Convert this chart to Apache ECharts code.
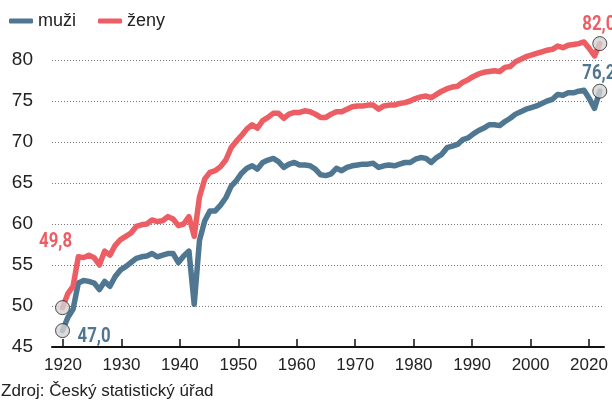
<!DOCTYPE html>
<html><head><meta charset="utf-8">
<script src="https://cdn.jsdelivr.net/npm/echarts@6/dist/echarts.min.js"></script>
<style>html,body{margin:0;padding:0;background:#fff}#c{width:612px;height:402px}</style>
</head><body><div id="c"></div>
<script>
const years = [1920,1921,1922,1923,1924,1925,1926,1927,1928,1929,
  1930,1931,1932,1933,1934,1935,1936,1937,1938,1939,
  1940,1941,1942,1943,1944,1945,1946,1947,1948,1949,
  1950,1951,1952,1953,1954,1955,1956,1957,1958,1959,
  1960,1961,1962,1963,1964,1965,1966,1967,1968,1969,
  1970,1971,1972,1973,1974,1975,1976,1977,1978,1979,
  1980,1981,1982,1983,1984,1985,1986,1987,1988,1989,
  1990,1991,1992,1993,1994,1995,1996,1997,1998,1999,
  2000,2001,2002,2003,2004,2005,2006,2007,2008,2009,
  2010,2011,2012,2013,2014,2015,2016,2017,2018,2019,
  2020,2021,2022];
const men = [47.0,48.6,49.6,52.8,53.1,53.0,52.8,52.0,53.0,52.4,
  53.6,54.4,54.8,55.3,55.8,56.0,56.1,56.4,56.0,56.2,
  56.4,56.4,55.3,56.1,56.7,50.2,58.0,60.4,61.6,61.6,
  62.3,63.2,64.6,65.3,66.2,66.8,67.1,66.7,67.5,67.8,
  68.0,67.6,66.9,67.3,67.5,67.2,67.2,67.1,66.7,66.0,
  65.9,66.1,66.8,66.5,66.9,67.1,67.2,67.3,67.3,67.4,
  66.9,67.1,67.2,67.1,67.3,67.5,67.5,67.9,68.1,68.0,
  67.5,68.1,68.5,69.3,69.5,69.7,70.3,70.5,71.0,71.4,
  71.7,72.1,72.1,72.0,72.5,72.9,73.4,73.7,74.0,74.2,
  74.4,74.7,75.0,75.2,75.8,75.7,76.0,76.0,76.2,76.3,
  75.3,74.1,76.2];
const women = [49.8,51.5,52.4,56.0,55.9,56.2,55.9,55.0,56.7,56.2,
  57.4,58.1,58.5,58.9,59.7,59.9,60.0,60.5,60.3,60.4,
  60.9,60.6,59.8,60.0,60.9,58.5,63.3,65.5,66.3,66.5,
  67.0,67.8,69.3,70.1,70.8,71.6,72.1,71.7,72.6,73.0,
  73.5,73.5,72.9,73.4,73.6,73.6,73.8,73.7,73.4,73.0,
  73.0,73.4,73.7,73.7,74.0,74.3,74.4,74.4,74.5,74.5,
  74.0,74.4,74.5,74.5,74.7,74.8,75.0,75.3,75.5,75.6,
  75.4,75.8,76.2,76.5,76.7,76.8,77.3,77.6,78.0,78.3,
  78.5,78.6,78.7,78.6,79.1,79.2,79.8,80.1,80.4,80.6,
  80.8,81.0,81.2,81.3,81.7,81.5,81.8,81.9,82.0,82.2,
  81.4,80.5,82.0];
const xTickLabels = ['1920','1930','1940','1950','1960','1970','1980','1990','2000','2020'];
const seriesNames = ['muži', 'ženy'];
const sourceText = 'Zdroj: Český statistický úřad';

const BLUE = '#4f7791', RED = '#ec5d64';
const numFont = "Roboto, 'Liberation Sans', sans-serif";
const baseFont = "'Liberation Sans', Arial, sans-serif";
const fmt = v => v.toFixed(1).replace('.', ',');
const pairs = vals => vals.map((v, i) => [years[i], v]);
const last = years.length - 1;
const markerStyle = { color: '#d3d3d3', borderColor: '#222', borderWidth: 1 };

const chart = echarts.init(document.getElementById('c'), null, { renderer: 'canvas' });
const footer = { id: 'footer', type: 'text', left: 1, top: 383,
  style: { text: sourceText, fontSize: 17, fill: '#222', fontFamily: baseFont } };

chart.setOption({
  animation: false,
  backgroundColor: '#fff',
  legend: {
    data: seriesNames, left: 9, top: 12, padding: 0, icon: 'roundRect',
    itemWidth: 24, itemHeight: 5, itemGap: 22,
    textStyle: { fontSize: 18, color: '#222', fontFamily: baseFont }
  },
  grid: [
    { left: 52, right: 8, top: 60, bottom: 55 },
    { left: 63, right: 23, top: 60, bottom: 55 }
  ],
  xAxis: [
    { gridIndex: 0, type: 'value', min: 1918, max: 2022.8,
      axisLine: { show: true, onZero: false, lineStyle: { color: '#111', width: 2 } },
      axisTick: { show: false }, axisLabel: { show: false }, splitLine: { show: false } },
    { gridIndex: 1, type: 'category', data: xTickLabels, boundaryGap: false,
      axisLine: { show: false },
      axisTick: { show: true, inside: true, length: 8, interval: 0, lineStyle: { color: '#111', width: 1.5 } },
      axisLabel: { interval: 0, color: '#222', fontSize: 17, fontFamily: baseFont, margin: 10 },
      splitLine: { show: false } }
  ],
  yAxis: [
    { gridIndex: 0, type: 'value', min: 45, max: 80, interval: 5,
      axisLine: { show: false }, axisTick: { show: false },
      axisLabel: { color: '#222', fontSize: 19, fontFamily: baseFont, margin: 19 },
      splitLine: { show: true, lineStyle: { color: '#777', type: [1, 2], width: 1 } } },
    { gridIndex: 1, type: 'value', min: 45, max: 80, show: false }
  ],
  series: [
    { name: seriesNames[0], type: 'line', xAxisIndex: 0, yAxisIndex: 0, data: pairs(men),
      symbol: 'none', clip: false, z: 3,
      lineStyle: { color: BLUE, width: 5.5, cap: 'round', join: 'round' }, itemStyle: { color: BLUE } },
    { name: seriesNames[1], type: 'line', xAxisIndex: 0, yAxisIndex: 0, data: pairs(women),
      symbol: 'none', clip: false, z: 3,
      lineStyle: { color: RED, width: 5.5, cap: 'round', join: 'round' }, itemStyle: { color: RED } },
    { name: 'men-ends', type: 'scatter', xAxisIndex: 0, yAxisIndex: 0, clip: false, z: 5,
      symbolSize: 14, itemStyle: markerStyle,
      data: [[years[0], men[0]], [years[last], men[last]]] },
    { name: 'women-ends', type: 'scatter', xAxisIndex: 0, yAxisIndex: 0, clip: false, z: 5,
      symbolSize: 14, itemStyle: markerStyle,
      data: [[years[0], women[0]], [years[last], women[last]]] }
  ],
  graphic: [footer]
});

// End-value labels in a condensed bold look, anchored to the data points via the chart's scales.
const labelSpecs = [
  { vals: men, i: 0, color: BLUE, align: 'left', dx: 15, dy: 6 },
  { vals: men, i: last, color: BLUE, align: 'center', dx: -1, dy: -17 },
  { vals: women, i: 0, color: RED, align: 'center', dx: -7, dy: -66 },
  { vals: women, i: last, color: RED, align: 'center', dx: -1, dy: -19 }
];
const labelEls = labelSpecs.map((s, k) => {
  const p = chart.convertToPixel({ gridIndex: 0 }, [years[s.i], s.vals[s.i]]);
  return {
    id: 'lbl' + k, type: 'text', x: p[0] + s.dx, y: p[1] + s.dy, scaleX: 0.8, z: 10,
    style: { text: fmt(s.vals[s.i]), fill: s.color, fontSize: 21, fontWeight: 'bold',
      fontFamily: numFont, align: s.align, verticalAlign: 'middle',
      textAlign: s.align, textVerticalAlign: 'middle' }
  };
});
chart.setOption({ graphic: [footer].concat(labelEls) });
</script>
</body></html>
